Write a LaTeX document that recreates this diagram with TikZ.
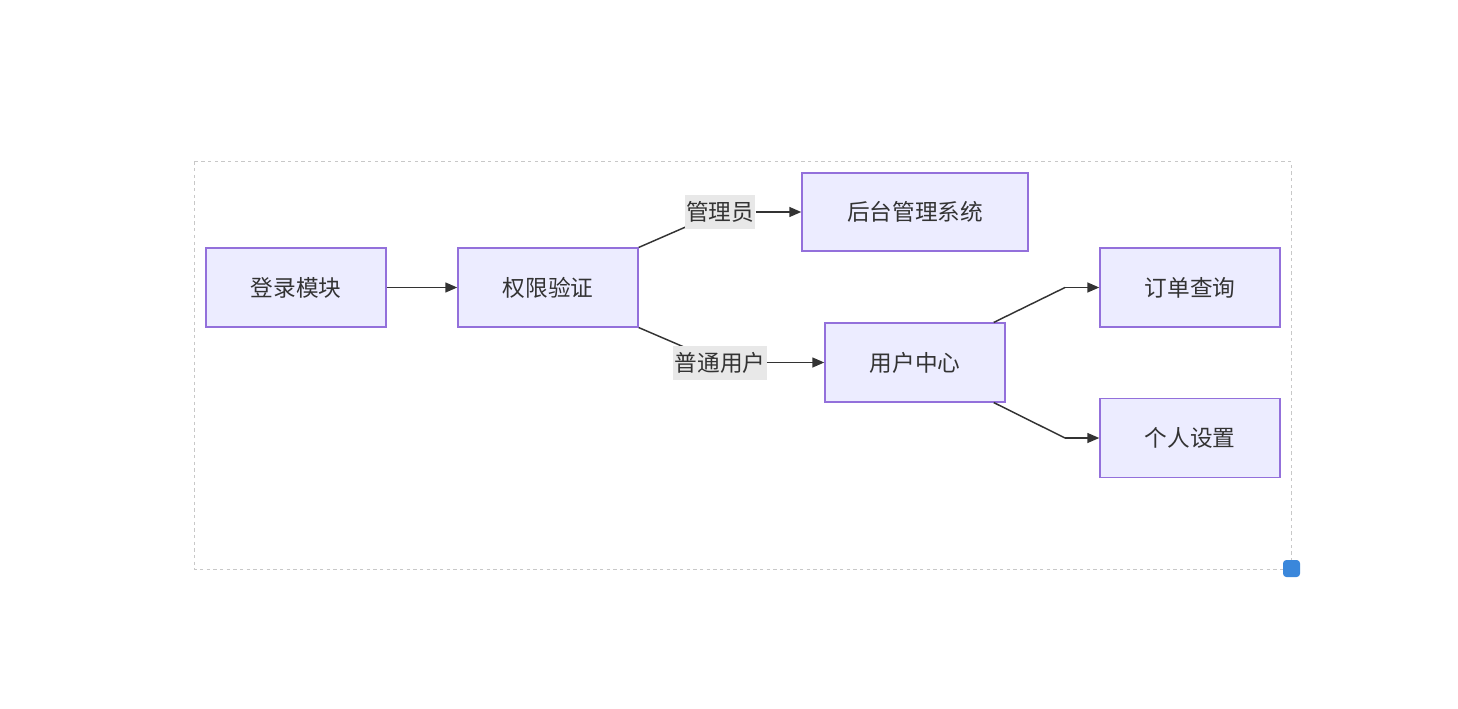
\documentclass[tikz,border=0pt]{standalone}
\usepackage{fontspec}
\setmainfont{Noto Sans CJK SC}
\usetikzlibrary{arrows.meta}
\definecolor{nodefill}{HTML}{ECECFF}
\definecolor{nodeline}{HTML}{9370DB}
\definecolor{ink}{HTML}{333333}
\definecolor{lblfill}{HTML}{E8E8E8}
\definecolor{framegray}{HTML}{C8C8C8}
\definecolor{handle}{HTML}{3A87DB}
\tikzset{
  box/.style={draw=nodeline, fill=nodefill, line width=1.1pt, text=ink,
    minimum width=135pt, minimum height=59pt, inner sep=0pt,
    font=\fontsize{17}{20}\selectfont},
  lbl/.style={fill=lblfill, text=ink, inner xsep=1pt, inner ysep=0pt,
    minimum height=25.5pt, font=\fontsize{17}{20}\selectfont},
  link/.style={draw=ink, line width=1.1pt},
  arrow/.style={link, -{Triangle[length=9pt,width=7.5pt]}},
}
\begin{document}
\begin{tikzpicture}[x=0.75pt, y=-0.75pt]
  \useasboundingbox (0,0) rectangle (1458,709);

  % group frame and resize handle
  \draw[framegray, line width=0.75pt, dash pattern=on 2.5pt off 2.5pt]
    (194.5,161.5) rectangle (1291.5,569.5);
  \node[fill=handle, rounded corners=2.5pt, minimum size=12.75pt, inner sep=0pt]
    (handle) at (1291.5,568.5) {};

  % nodes
  \node[box] (login) at (296,287.5) {登录模块};
  \node[box] (auth) at (548,287.5) {权限验证};
  \node[box, minimum width=169.5pt, minimum height=58.5pt] (admin) at (915,212) {后台管理系统};
  \node[box] (user) at (915,362.5) {用户中心};
  \node[box] (order) at (1190,287.5) {订单查询};
  \node[box] (settings) at (1190,438) {个人设置};

  % bend points
  \coordinate (ka) at (720,212);
  \coordinate (kb) at (720,362.5);
  \coordinate (kc) at (1065,287.5);
  \coordinate (kd) at (1065,438);

  % connectors
  \draw[arrow] (login) -- (auth);
  \draw[link] (auth.north east) -- (ka);
  \draw[link] (auth.south east) -- (kb);
  \draw[link] ([xshift=-9pt]user.north east) -- (kc);
  \draw[arrow] (kc) -- (order.west);
  \draw[link] ([xshift=-9pt]user.south east) -- (kd);
  \draw[arrow] (kd) -- (settings.west);

  % edge labels
  \node[lbl] (la) at (ka) {管理员};
  \node[lbl] (lb) at (kb) {普通用户};
  \draw[arrow] (la.east) -- (admin.west);
  \draw[arrow] (lb.east) -- (user.west);
\end{tikzpicture}
\end{document}
